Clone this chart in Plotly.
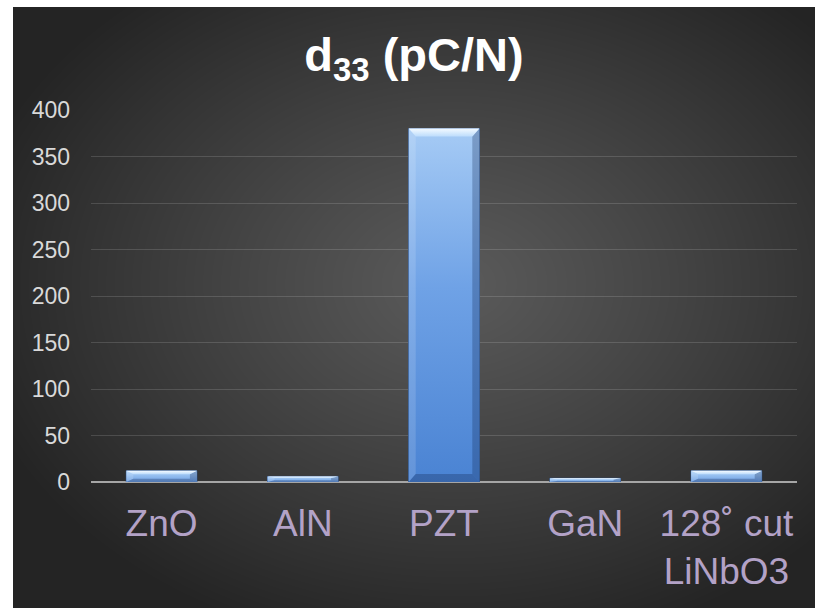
import base64
import struct
import zlib

import numpy as np
import plotly.graph_objects as go

# ---- data -------------------------------------------------------------
materials = ["ZnO", "AlN", "PZT", "GaN", "128˚ cut<br>LiNbO3"]
d33_values = [12, 6, 380, 4, 12]          # piezoelectric coefficient, pC/N
y_ticks = [0, 50, 100, 150, 200, 250, 300, 350, 400]

# ---- canvas geometry ----------------------------------------------------
W, H = 815, 608
M_L, M_R, M_T, M_B = 91, 18, 110, 126
PLOT_W = W - M_L - M_R
PLOT_H = H - M_T - M_B
BG_X0, BG_Y0 = 13, 7          # dark panel starts a little inside the page


def png_data_uri(img):
    """Encode an HxWx3 uint8 array as a PNG data URI (no PIL needed)."""
    h, w, _ = img.shape
    raw = b"".join(b"\x00" + img[r].tobytes() for r in range(h))

    def chunk(tag, data):
        body = tag + data
        return struct.pack(">I", len(data)) + body + struct.pack(">I", zlib.crc32(body) & 0xFFFFFFFF)

    png = (b"\x89PNG\r\n\x1a\n"
           + chunk(b"IHDR", struct.pack(">IIBBBBB", w, h, 8, 2, 0, 0, 0))
           + chunk(b"IDAT", zlib.compress(raw, 9))
           + chunk(b"IEND", b""))
    return "data:image/png;base64," + base64.b64encode(png).decode()


# radial charcoal gradient for the chart panel
bw, bh = W - BG_X0, H - BG_Y0
yy, xx = np.mgrid[0:bh, 0:bw].astype(float)
cx, cy = 0.55 * bw, 0.46 * bh
r = np.sqrt(((xx - cx) / (0.62 * bw)) ** 2 + ((yy - cy) / (0.62 * bh)) ** 2)
t = np.clip(r, 0, 1) ** 1.1
inner, outer = 90.0, 36.0
grey = (inner + (outer - inner) * t).round().astype(np.uint8)
bg_img = np.dstack([grey, grey, grey])
bg_uri = png_data_uri(bg_img)

# ---- bars ---------------------------------------------------------------
BAR_W = 0.5
x_units_per_px = 5.0 / PLOT_W
y_units_per_px = 400.0 / PLOT_H
BEV_X = 7 * x_units_per_px
BEV_Y = 8 * y_units_per_px

fig = go.Figure()
xs = list(range(len(materials)))

fig.add_trace(go.Bar(
    x=xs, y=d33_values, width=BAR_W,
    marker=dict(color="#5f93dc", line=dict(color="#2c4f86", width=1)),
    hoverinfo="skip", showlegend=False,
))


def poly(px, py, **kw):
    fig.add_trace(go.Scatter(
        x=px + [px[0]], y=py + [py[0]], mode="lines", fill="toself",
        line=dict(width=0), hoverinfo="skip", showlegend=False, **kw))


for i, v in zip(xs, d33_values):
    x0, x1 = i - BAR_W / 2, i + BAR_W / 2
    tall = v > 4 * BEV_Y
    by = BEV_Y if tall else v * 0.3
    bx = BEV_X
    # face with vertical gradient
    face_scale = ([[0, "#4a83d3"], [0.55, "#6fa2e6"], [1, "#a6cbf5"]] if tall
                  else [[0, "#6d9fe2"], [1, "#b3d6fa"]])
    poly([x0, x1, x1, x0], [0, 0, v, v],
         fillgradient=dict(type="vertical", colorscale=face_scale))
    # left bevel (light)
    poly([x0, x0, x0 + bx, x0 + bx], [0, v, v - by, by],
         fillcolor="rgba(255,255,255,0.14)")
    # right bevel (shade)
    poly([x1, x1, x1 - bx, x1 - bx], [0, v, v - by, by],
         fillcolor="rgba(15,35,80,0.28)")
    # bottom bevel (shade)
    poly([x0, x1, x1 - bx, x0 + bx], [0, 0, by, by],
         fillcolor="rgba(15,35,80,0.30)")
    # top bevel (highlight)
    poly([x0, x1, x1 - bx, x0 + bx], [v, v, v - by, v - by],
         fillgradient=dict(type="vertical",
                           colorscale=[[0, "#bcdcfc"], [1, "#f4faff"]]))

# ---- layout -------------------------------------------------------------
fig.update_layout(
    width=W, height=H,
    margin=dict(l=M_L, r=M_R, t=M_T, b=M_B, autoexpand=False),
    paper_bgcolor="white",
    plot_bgcolor="rgba(0,0,0,0)",
    showlegend=False,
    hovermode=False,
    barmode="overlay",
    title=dict(
        text="<b>d<sub>33</sub> (pC/N)</b>",
        x=414 / W, xref="container", xanchor="center",
        y=1 - 55 / H, yref="container", yanchor="middle",
        font=dict(family="Liberation Sans, Arial, sans-serif", size=47, color="#ffffff"),
    ),
    xaxis=dict(
        range=[-0.5, 4.5],
        tickvals=xs, ticktext=materials,
        showgrid=False, zeroline=False, showline=False,
        ticks="", ticklabelstandoff=16, automargin=False,
        tickfont=dict(family="Liberation Sans, Arial, sans-serif",
                      size=37, color="#b3a2c7"),
        fixedrange=True,
    ),
    yaxis=dict(
        range=[0, 400],
        tickvals=y_ticks,
        showgrid=True, gridcolor="rgba(255,255,255,0.14)", gridwidth=1,
        zeroline=True, zerolinecolor="#a6a6a6", zerolinewidth=2,
        showline=False, ticks="", ticklabelstandoff=20, automargin=False,
        tickfont=dict(family="Liberation Sans, Arial, sans-serif", size=23, color="#d9d9d9"),
        fixedrange=True,
    ),
    images=[dict(
        source=bg_uri, xref="paper", yref="paper",
        x=(BG_X0 - M_L) / PLOT_W, y=(H - BG_Y0 - M_B) / PLOT_H,
        sizex=(W - BG_X0) / PLOT_W, sizey=(H - BG_Y0) / PLOT_H,
        xanchor="left", yanchor="top", sizing="stretch", layer="below",
    )],
)

fig.write_html("out.html")
